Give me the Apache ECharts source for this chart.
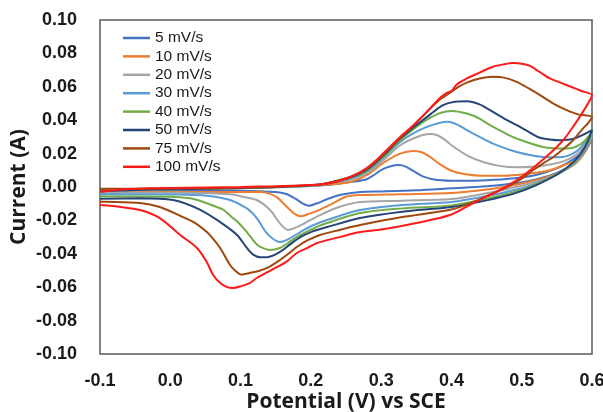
<!DOCTYPE html>
<html>
<head>
<meta charset="utf-8">
<script src="https://cdn.jsdelivr.net/npm/echarts@6/dist/echarts.min.js"></script>
<style>
  html, body { margin: 0; padding: 0; background: #fff; }
  #chart { width: 603px; height: 412px; }
</style>
</head>
<body>
<div id="chart"></div>
<script>
// Cyclic voltammograms: [potential (V vs SCE), current (A)], anodic sweep then cathodic sweep.
const scanRates = ['5 mV/s', '10 mV/s', '20 mV/s', '30 mV/s', '40 mV/s', '50 mV/s', '75 mV/s', '100 mV/s'];
const lineColors = ['#4472C4', '#ED7D31', '#A5A5A5', '#5B9BD5', '#70AD47', '#264478', '#9E480E', '#FF1A1A'];
const xTicks = [-0.1, 0.0, 0.1, 0.2, 0.3, 0.4, 0.5, 0.6];
const yTicks = [-0.10, -0.08, -0.06, -0.04, -0.02, 0.00, 0.02, 0.04, 0.06, 0.08, 0.10];

const cv5 = [
  [-0.1,-0.0015],[-0.05,-0.0014],[0.0,-0.0012],[0.05,-0.001],[0.1,-0.0007],[0.15,-0.0002],[0.2,0.0006],
  [0.23,0.0015],[0.256,0.003],[0.28,0.0048],[0.303,0.0108],[0.315,0.0126],[0.325,0.0131],[0.335,0.0122],
  [0.347,0.0093],[0.36,0.0062],[0.38,0.0042],[0.41,0.0037],[0.45,0.004],[0.49,0.0052],[0.52,0.0072],
  [0.55,0.0112],[0.575,0.017],[0.59,0.022],[0.6,0.029],
  [0.59,0.021],[0.575,0.014],[0.55,0.0085],[0.52,0.0045],[0.49,0.0022],[0.45,0.0004],[0.4,-0.0008],
  [0.35,-0.002],[0.3,-0.0027],[0.27,-0.003],[0.241,-0.0048],[0.222,-0.0075],[0.209,-0.0097],[0.197,-0.0113],
  [0.188,-0.0098],[0.178,-0.007],[0.165,-0.0042],[0.15,-0.003],[0.1,-0.0022],[0.0,-0.002],[-0.1,-0.0019]
];
const cv10 = [
  [-0.1,-0.0018],[-0.05,-0.0015],[0.0,-0.0012],[0.05,-0.001],[0.1,-0.0006],[0.15,-0.0001],[0.2,0.0007],
  [0.23,0.0016],[0.256,0.003],[0.28,0.0072],[0.303,0.0144],[0.327,0.02],[0.345,0.0216],[0.357,0.021],
  [0.368,0.0185],[0.384,0.0135],[0.4,0.0097],[0.42,0.0076],[0.445,0.0067],[0.47,0.0067],[0.493,0.0072],
  [0.52,0.0085],[0.54,0.01],[0.56,0.013],[0.58,0.017],[0.6,0.03],
  [0.59,0.021],[0.575,0.0135],[0.55,0.008],[0.52,0.004],[0.49,0.0012],[0.45,-0.0015],[0.4,-0.0036],
  [0.33,-0.0043],[0.27,-0.0048],[0.25,-0.0058],[0.232,-0.0096],[0.213,-0.0135],[0.199,-0.0158],[0.185,-0.0175],
  [0.175,-0.0155],[0.165,-0.0115],[0.152,-0.0062],[0.14,-0.0038],[0.128,-0.003],[0.042,-0.003],[-0.1,-0.0028]
];
const cv20 = [
  [-0.1,-0.002],[-0.05,-0.0016],[0.0,-0.0013],[0.05,-0.001],[0.1,-0.0006],[0.15,0.0],[0.2,0.0008],
  [0.22,0.002],[0.256,0.0045],[0.28,0.0085],[0.303,0.016],[0.327,0.025],[0.35,0.0298],[0.369,0.0317],
  [0.38,0.031],[0.39,0.0285],[0.4,0.025],[0.422,0.019],[0.445,0.015],[0.47,0.0125],[0.495,0.0118],
  [0.52,0.0123],[0.54,0.0135],[0.56,0.0155],[0.58,0.02],[0.6,0.031],
  [0.59,0.022],[0.575,0.014],[0.55,0.0075],[0.52,0.003],[0.49,-0.0002],[0.45,-0.0038],[0.4,-0.0072],
  [0.33,-0.0082],[0.27,-0.009],[0.24,-0.012],[0.213,-0.0168],[0.192,-0.0215],[0.18,-0.024],[0.168,-0.0257],
  [0.156,-0.0218],[0.142,-0.0138],[0.123,-0.0078],[0.1,-0.0055],[0.089,-0.0045],[0.042,-0.0036],[0.0,-0.0034],[-0.1,-0.003]
];
const cv30 = [
  [-0.1,-0.002],[-0.05,-0.0016],[0.0,-0.0013],[0.05,-0.001],[0.1,-0.0006],[0.15,0.0],[0.2,0.0009],
  [0.22,0.002],[0.256,0.005],[0.28,0.0095],[0.303,0.0175],[0.327,0.027],[0.345,0.032],[0.365,0.036],
  [0.384,0.0385],[0.395,0.039],[0.41,0.037],[0.422,0.034],[0.44,0.03],[0.459,0.026],[0.493,0.021],
  [0.53,0.018],[0.55,0.0178],[0.564,0.0185],[0.58,0.022],[0.6,0.032],
  [0.59,0.022],[0.575,0.0145],[0.55,0.0075],[0.52,0.002],[0.49,-0.0018],[0.45,-0.0055],[0.4,-0.009],
  [0.33,-0.0108],[0.27,-0.0138],[0.223,-0.0198],[0.2,-0.0235],[0.185,-0.027],[0.166,-0.0317],[0.156,-0.033],
  [0.146,-0.031],[0.136,-0.027],[0.123,-0.0186],[0.109,-0.0128],[0.085,-0.0078],[0.052,-0.0052],[0.0,-0.0045],[-0.1,-0.0042]
];
const cv40 = [
  [-0.1,-0.0022],[-0.05,-0.0017],[0.0,-0.0013],[0.05,-0.001],[0.1,-0.0006],[0.15,0.0],[0.2,0.0009],
  [0.22,0.002],[0.256,0.0055],[0.28,0.01],[0.303,0.018],[0.327,0.028],[0.35,0.036],[0.37,0.0415],
  [0.385,0.0445],[0.4,0.0455],[0.422,0.044],[0.44,0.041],[0.455,0.037],[0.475,0.0325],[0.493,0.029],
  [0.53,0.024],[0.564,0.023],[0.585,0.026],[0.6,0.033],
  [0.59,0.023],[0.575,0.015],[0.55,0.0075],[0.52,0.0015],[0.49,-0.003],[0.45,-0.007],[0.4,-0.011],
  [0.33,-0.0128],[0.27,-0.0156],[0.223,-0.0216],[0.2,-0.0255],[0.18,-0.03],[0.166,-0.034],[0.156,-0.0365],
  [0.142,-0.0377],[0.128,-0.0359],[0.121,-0.0335],[0.109,-0.027],[0.095,-0.0205],[0.089,-0.0186],[0.075,-0.0135],
  [0.066,-0.012],[0.042,-0.0082],[0.028,-0.0068],[0.0,-0.0058],[-0.1,-0.0055]
];
const cv50 = [
  [-0.1,-0.0025],[-0.05,-0.0018],[0.0,-0.0013],[0.05,-0.001],[0.1,-0.0006],[0.15,0.0],[0.2,0.001],
  [0.22,0.002],[0.256,0.0058],[0.28,0.0105],[0.303,0.0188],[0.327,0.029],[0.35,0.037],[0.37,0.0435],
  [0.388,0.049],[0.405,0.051],[0.422,0.0513],[0.44,0.0495],[0.455,0.046],[0.475,0.041],[0.493,0.037],
  [0.51,0.033],[0.526,0.0295],[0.54,0.0285],[0.554,0.028],[0.575,0.029],[0.6,0.034],
  [0.59,0.024],[0.575,0.0155],[0.55,0.0075],[0.52,0.001],[0.49,-0.0038],[0.45,-0.008],[0.4,-0.012],
  [0.33,-0.0148],[0.27,-0.0186],[0.223,-0.024],[0.2,-0.027],[0.185,-0.03],[0.17,-0.0345],[0.156,-0.0389],
  [0.138,-0.042],[0.128,-0.042],[0.118,-0.0405],[0.109,-0.0365],[0.095,-0.0287],[0.071,-0.021],[0.042,-0.0135],
  [0.004,-0.0078],[-0.043,-0.0068],[-0.1,-0.007]
];
const cv75 = [
  [-0.1,-0.001],[-0.05,-0.001],[0.0,-0.0009],[0.05,-0.0007],[0.1,-0.0004],[0.15,0.0002],[0.2,0.001],
  [0.22,0.002],[0.256,0.006],[0.28,0.011],[0.303,0.0195],[0.327,0.0295],[0.345,0.0365],[0.365,0.045],
  [0.384,0.0525],[0.398,0.0565],[0.41,0.06],[0.422,0.0625],[0.44,0.065],[0.459,0.066],[0.475,0.0655],
  [0.493,0.063],[0.51,0.059],[0.53,0.054],[0.547,0.0495],[0.564,0.046],[0.58,0.0435],[0.6,0.042],
  [0.594,0.038],[0.587,0.035],[0.573,0.028],[0.56,0.023],[0.545,0.018],[0.53,0.014],[0.516,0.01],
  [0.5,0.005],[0.479,0.0],[0.455,-0.0045],[0.431,-0.009],[0.4,-0.0135],[0.33,-0.018],[0.27,-0.0228],
  [0.241,-0.0257],[0.213,-0.0287],[0.195,-0.032],[0.18,-0.0359],[0.168,-0.04],[0.156,-0.0437],[0.14,-0.048],
  [0.128,-0.05],[0.113,-0.0515],[0.101,-0.0525],[0.092,-0.05],[0.085,-0.0467],[0.071,-0.0365],[0.061,-0.031],
  [0.052,-0.027],[0.035,-0.0215],[0.018,-0.018],[-0.015,-0.012],[-0.043,-0.0096],[-0.1,-0.0088]
];
const cv100 = [
  [-0.1,-0.003],[-0.07,-0.0015],[-0.03,-0.0008],[0.0,-0.0006],[0.05,-0.0003],[0.1,0.0],[0.15,0.0005],
  [0.2,0.0012],[0.23,0.0025],[0.256,0.006],[0.28,0.0115],[0.303,0.02],[0.327,0.03],[0.345,0.0365],
  [0.365,0.045],[0.384,0.0535],[0.394,0.0565],[0.4,0.0575],[0.408,0.0615],[0.422,0.065],[0.44,0.0685],
  [0.459,0.072],[0.475,0.0735],[0.488,0.0742],[0.5,0.0738],[0.512,0.0725],[0.525,0.069],[0.54,0.065],
  [0.555,0.0625],[0.57,0.06],[0.585,0.0575],[0.6,0.055],
  [0.597,0.052],[0.587,0.045],[0.573,0.036],[0.559,0.028],[0.54,0.02],[0.516,0.0114],[0.493,0.0042],
  [0.469,-0.0018],[0.431,-0.0096],[0.398,-0.0168],[0.35,-0.0215],[0.3,-0.0255],[0.27,-0.027],[0.241,-0.03],
  [0.209,-0.0335],[0.195,-0.0365],[0.18,-0.0395],[0.166,-0.0445],[0.152,-0.0479],[0.138,-0.051],[0.123,-0.0545],
  [0.113,-0.0575],[0.1,-0.0595],[0.089,-0.0605],[0.08,-0.0598],[0.071,-0.0575],[0.061,-0.0527],[0.052,-0.045],
  [0.038,-0.0365],[0.014,-0.0287],[-0.015,-0.0186],[-0.043,-0.0138],[-0.07,-0.012],[-0.1,-0.0108]
];
const curves = [cv5, cv10, cv20, cv30, cv40, cv50, cv75, cv100];

const tickFont = { fontFamily: 'Liberation Sans, Arial, sans-serif', fontWeight: 'bold', fontSize: 18, color: '#1a1a1a' };
const titleFont = { fontFamily: 'Open Sans, sans-serif', fontWeight: 'bold', fontSize: 21, color: '#1a1a1a' };

const chart = echarts.init(document.getElementById('chart'), null, { renderer: 'canvas' });
chart.setOption({
  animation: false,
  backgroundColor: '#ffffff',
  grid: {
    left: 100, right: 11, top: 20, bottom: 58,
    containLabel: false, outerBoundsMode: 'none',
    show: true, borderColor: '#595959', borderWidth: 1.5, backgroundColor: 'transparent'
  },
  legend: {
    orient: 'vertical', left: 123, top: 30, padding: 0,
    icon: 'rect', itemWidth: 27, itemHeight: 2.5, itemGap: 2.4,
    data: scanRates,
    textStyle: { fontFamily: 'Liberation Sans, Arial, sans-serif', fontSize: 15.5, color: '#1a1a1a', lineHeight: 16 }
  },
  xAxis: {
    type: 'value', min: xTicks[0], max: xTicks[xTicks.length - 1], interval: 0.1,
    name: 'Potential (V) vs SCE', nameLocation: 'middle', nameGap: 38, nameMoveOverlap: false, nameTextStyle: titleFont,
    axisLine: { show: false }, axisTick: { show: false }, splitLine: { show: false },
    axisLabel: Object.assign({ margin: 18, formatter: v => v.toFixed(1) }, tickFont)
  },
  yAxis: {
    type: 'value', min: yTicks[0], max: yTicks[yTicks.length - 1], interval: 0.02,
    name: 'Current (A)', nameLocation: 'middle', nameGap: 70, nameMoveOverlap: false, nameTextStyle: titleFont,
    axisLine: { show: false }, axisTick: { show: false }, splitLine: { show: false },
    axisLabel: Object.assign({ margin: 23, formatter: v => v.toFixed(2) }, tickFont)
  },
  series: curves.map((pts, i) => ({
    name: scanRates[i], type: 'line', data: pts,
    showSymbol: false, symbol: 'none', smooth: 0.3,
    lineStyle: { width: 2, color: lineColors[i] },
    itemStyle: { color: lineColors[i] }
  }))
});
</script>
</body>
</html>
